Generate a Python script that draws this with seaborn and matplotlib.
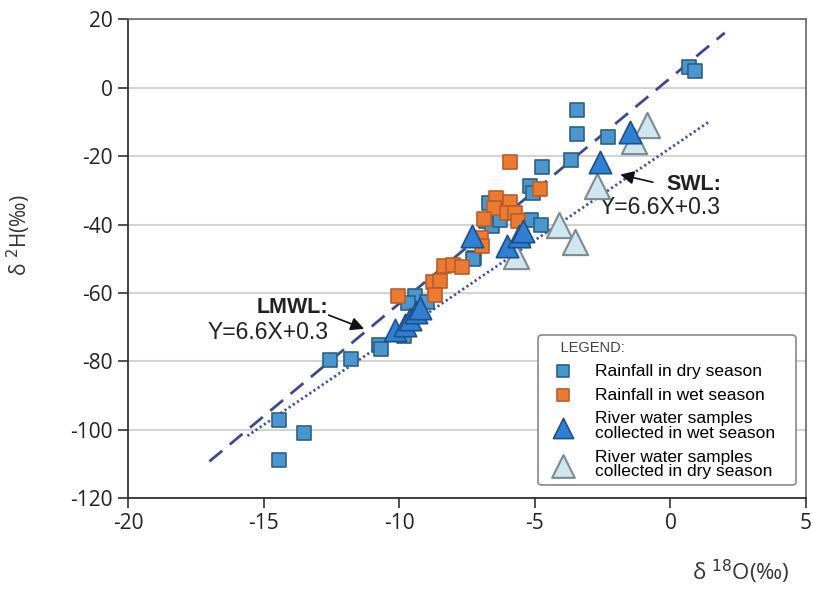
import numpy as np
import pandas as pd
import seaborn as sns
import matplotlib.pyplot as plt

plt.rcParams['axes.unicode_minus'] = False

# rainfall, dry season
dry_rain_o = [0.7, 0.9, -3.45, -3.45, -2.3, -3.68, -4.72, -5.18, -5.06, -6.69, -6.82,
              -6.57, -6.27, -5.16, -4.78, -7.24, -7.28, -9.42, -9.67, -8.96, -9.82,
              -10.74, -10.68, -11.78, -12.57, -14.44, -13.53, -14.45]
dry_rain_h = [6.0, 5.0, -6.5, -13.4, -14.5, -21.1, -23.1, -28.6, -30.8, -33.6, -38.9,
              -40.4, -38.6, -38.6, -40.1, -49.8, -50.1, -61.0, -63.0, -62.7, -72.5,
              -75.3, -76.3, -79.3, -79.6, -97.3, -101.0, -108.8]

# rainfall, wet season
wet_rain_o = [-5.92, -4.82, -6.42, -6.51, -5.92, -6.02, -5.74, -6.88, -5.62, -7.0,
              -6.94, -8.35, -8.01, -7.7, -8.75, -8.5, -10.06, -8.68]
wet_rain_h = [-21.6, -29.6, -32.3, -35.2, -33.3, -36.5, -36.7, -38.3, -38.9, -44.0,
              -46.2, -52.1, -51.8, -52.5, -56.9, -56.6, -60.8, -60.6]

# river water, wet season
wet_river_o = [-10.15, -9.8, -9.6, -9.4, -9.25, -7.33, -6.02, -5.6, -5.42, -2.61, -1.49]
wet_river_h = [-71.0, -69.3, -67.5, -65.5, -64.3, -43.3, -46.4, -43.5, -41.8, -21.6, -13.0]

# river water, dry season
dry_river_o = [-5.71, -4.12, -3.51, -2.71, -1.36, -0.87]
dry_river_h = [-49.2, -40.0, -45.0, -28.8, -15.6, -11.0]

# water lines: slope, intercept, x range
lmwl_x = [-17.0, 2.0]
lmwl_k, lmwl_b = 6.6, 2.9
swl_x = [-15.6, 1.4]
swl_k, swl_b = 5.4, -17.6

fig = plt.figure(figsize=(8.13, 5.90), dpi=100)
ax = fig.add_axes([0.1575, 0.156, 0.834, 0.811])

tick_font = ['Open Sans', 'DejaVu Sans']
txt_font = ['Liberation Sans', 'DejaVu Sans']

lx = np.array(lmwl_x)
sx = np.array(swl_x)
sns.lineplot(x=lx, y=lmwl_k * lx + lmwl_b, ax=ax, color='#3e4a8c', lw=2,
             linestyle=(0, (6, 3.5)), zorder=2)
sns.lineplot(x=sx, y=swl_k * sx + swl_b, ax=ax, color='#4552a3', lw=2,
             linestyle=(0, (0.8, 1.0)), zorder=2)

sns.scatterplot(x=dry_rain_o, y=dry_rain_h, ax=ax, marker='s', s=105,
                color='#4a97d0', edgecolor='#2f5f84', linewidth=1.2,
                label='Rainfall in dry season', zorder=3)
sns.scatterplot(x=wet_rain_o, y=wet_rain_h, ax=ax, marker='s', s=105,
                color='#ec7a30', edgecolor='#b85e2a', linewidth=1.2,
                label='Rainfall in wet season', zorder=3)
sns.scatterplot(x=wet_river_o, y=wet_river_h, ax=ax, marker='^', s=260,
                color='#2f7fd2', edgecolor='#1f4f8a', linewidth=1.2,
                label='River water samples\ncollected in wet season', zorder=5)
sns.scatterplot(x=dry_river_o, y=dry_river_h, ax=ax, marker='^', s=330,
                color='#cfe6ef', edgecolor='#7d8b90', linewidth=1.5,
                label='River water samples\ncollected in dry season', zorder=4)

ax.set_xlim(-20, 5)
ax.set_ylim(-120, 20)
ax.set_xticks(np.arange(-20, 6, 5))
ax.set_yticks(np.arange(-120, 21, 20))
ax.yaxis.grid(True, color='#d4d4d4', lw=1.5, zorder=0)
ax.xaxis.grid(False)
ax.set_axisbelow(True)
for side in ['left', 'bottom']:
    ax.spines[side].set_color('#333333')
    ax.spines[side].set_linewidth(1.3)
for side in ['top', 'right']:
    ax.spines[side].set_color('#666666')
    ax.spines[side].set_linewidth(1.2)
ax.tick_params(axis='both', direction='out', length=7, width=1.2, color='#333333',
               labelsize=15, labelcolor='#222222', pad=4)
for lab in ax.get_xticklabels() + ax.get_yticklabels():
    lab.set_family(tick_font)

ax.set_xlabel('δ $^{18}$O(‰)', fontsize=16, family=tick_font, color='#333333')
ax.xaxis.set_label_coords(0.975, -0.125)
ax.xaxis.label.set_ha('right')
ax.set_ylabel('δ $^{2}$H(‰)', fontsize=15, family=tick_font, color='#333333')
ax.yaxis.set_label_coords(-0.14, 0.55)

ax.text(-15.26, -64.4, 'LMWL:', fontsize=15.5, fontweight='bold', family=txt_font,
        va='center', ha='left', color='#222222')
ax.text(-17.06, -71.7, 'Y=6.6X+0.3', fontsize=16.5, family=txt_font,
        va='center', ha='left', color='#222222')
ax.annotate('', xy=(-11.2, -70.8), xytext=(-12.7, -66.2),
            arrowprops=dict(arrowstyle='-|>', color='#111111', lw=1.2,
                            mutation_scale=20))

ax.text(-0.15, -28.2, 'SWL:', fontsize=15.5, fontweight='bold', family=txt_font,
        va='center', ha='left', color='#222222')
ax.text(-2.6, -35.0, 'Y=6.6X+0.3', fontsize=16.5, family=txt_font,
        va='center', ha='left', color='#222222')
ax.annotate('', xy=(-1.95, -25.2), xytext=(-0.55, -27.8),
            arrowprops=dict(arrowstyle='-|>', color='#111111', lw=1.2,
                            mutation_scale=20))

leg = ax.legend(loc='lower left', bbox_to_anchor=(0.605, 0.027, 0.38, 0.3),
                mode='expand', title='    LEGEND:',
                alignment='left', frameon=True, fancybox=True, framealpha=1,
                edgecolor='#888888', prop={'family': txt_font, 'size': 12.5},
                title_fontproperties={'family': txt_font, 'size': 10.5},
                handletextpad=0.7, labelspacing=0.5, borderpad=0.35,
                handlelength=2.2, markerscale=0.9, borderaxespad=0)
leg.get_title().set_color('#444444')
leg.get_frame().set_linewidth(1.2)
for t in leg.get_texts():
    t.set_linespacing(0.95)

fig.savefig('out.png', dpi=100)
